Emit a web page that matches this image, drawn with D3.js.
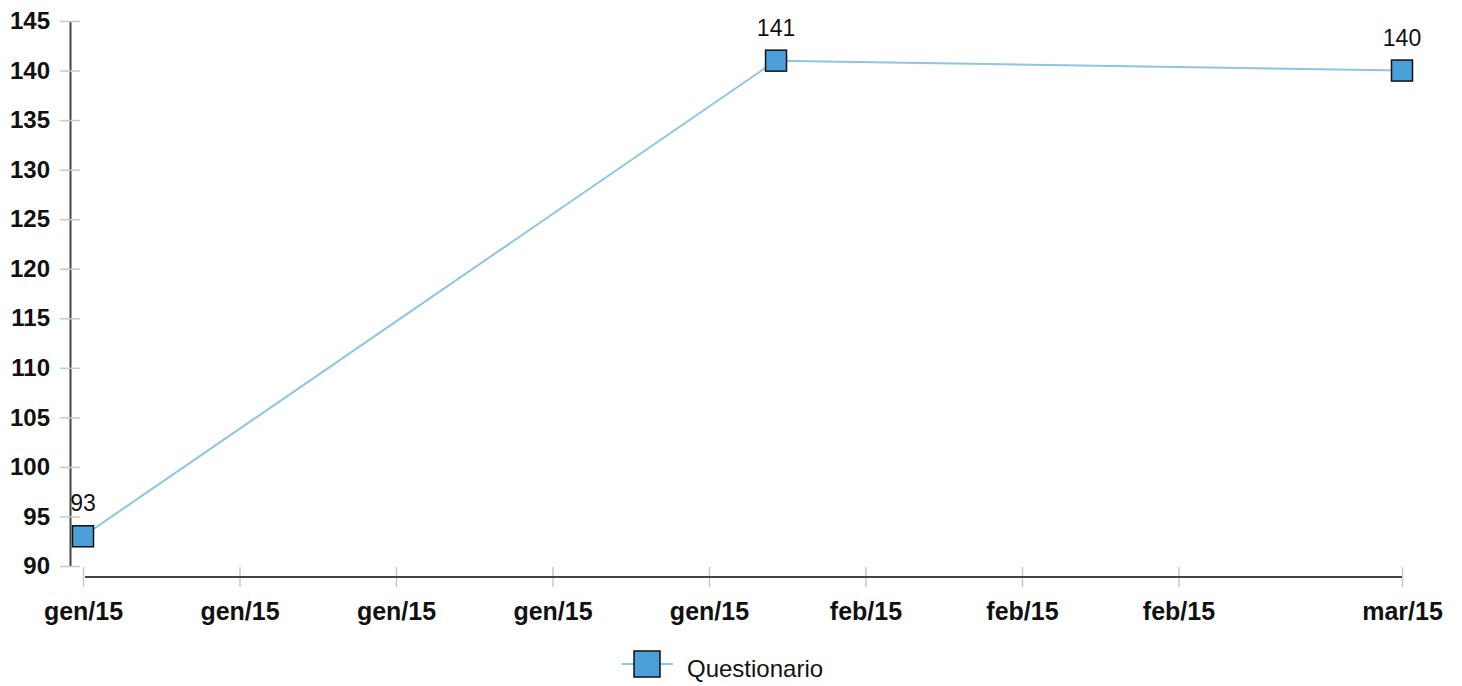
<!DOCTYPE html>
<html>
<head>
<meta charset="utf-8">
<script src="https://cdn.jsdelivr.net/npm/d3@7"></script>
<style>
  body { margin: 0; background: #fff; }
  svg { display: block; font-family: "Liberation Sans", Arial, sans-serif; }
</style>
</head>
<body>
<svg id="chart" width="1462" height="686"></svg>
<script>
// data
const dates = ['2015-01-01', '2015-02-01', '2015-03-01'];
const values = [93, 141, 140];
const seriesName = 'Questionario';
const tickDates = ['2015-01-01', '2015-01-08', '2015-01-15', '2015-01-22', '2015-01-29',
  '2015-02-05', '2015-02-12', '2015-02-19', '2015-03-01'];
const yTicks = [90, 95, 100, 105, 110, 115, 120, 125, 130, 135, 140, 145];

const parse = d3.utcParse('%Y-%m-%d');
const it = d3.timeFormatLocale({
  dateTime: '%A %e %B %Y, %X', date: '%d/%m/%Y', time: '%H:%M:%S',
  periods: ['AM', 'PM'],
  days: ['domenica', 'lunedì', 'martedì', 'mercoledì', 'giovedì', 'venerdì', 'sabato'],
  shortDays: ['dom', 'lun', 'mar', 'mer', 'gio', 'ven', 'sab'],
  months: ['gennaio', 'febbraio', 'marzo', 'aprile', 'maggio', 'giugno', 'luglio', 'agosto', 'settembre', 'ottobre', 'novembre', 'dicembre'],
  shortMonths: ['gen', 'feb', 'mar', 'apr', 'mag', 'giu', 'lug', 'ago', 'set', 'ott', 'nov', 'dic']
});
const fmt = it.utcFormat('%b/%y');

const data = dates.map((d, i) => ({ date: parse(d), value: values[i] }));

const svg = d3.select('#chart');

const x = d3.scaleUtc()
  .domain([parse(dates[0]), parse(dates[dates.length - 1])])
  .range([83, 1402]);

const y = d3.scaleLinear()
  .domain([90, 145])
  .range([566, 21]);

// y axis
const yAxis = svg.append('g')
  .attr('transform', 'translate(70,0)')
  .call(d3.axisLeft(y).tickValues(yTicks).tickSize(0).tickPadding(20));
yAxis.select('.domain').attr('stroke', '#444').attr('stroke-width', 2);
yAxis.selectAll('.tick line')
  .attr('x1', -10).attr('x2', 10)
  .attr('stroke', '#c8c8c8').attr('stroke-width', 1.5);
yAxis.selectAll('.tick text')
  .attr('font-size', 24).attr('font-weight', 'bold').attr('fill', '#111')
  .attr('font-family', '"Liberation Sans", Arial, sans-serif');

// x axis
const xAxis = svg.append('g')
  .attr('transform', 'translate(0,577)')
  .call(d3.axisBottom(x).tickValues(tickDates.map(parse)).tickFormat(fmt).tickSize(0).tickPadding(25));
xAxis.select('.domain').remove();
xAxis.append('line')
  .attr('x1', x(parse(dates[0])) + 2).attr('x2', x(parse(dates[dates.length - 1])))
  .attr('stroke', '#444').attr('stroke-width', 2);
xAxis.selectAll('.tick line')
  .attr('y1', -10).attr('y2', 10)
  .attr('stroke', '#c8c8c8').attr('stroke-width', 1.5);
xAxis.selectAll('.tick text')
  .attr('font-size', 25).attr('font-weight', 'bold').attr('fill', '#111')
  .attr('font-family', '"Liberation Sans", Arial, sans-serif');

// line
const line = d3.line().x(d => x(d.date)).y(d => y(d.value));
svg.append('path')
  .datum(data)
  .attr('d', line)
  .attr('fill', 'none')
  .attr('stroke', '#8ec5e2')
  .attr('stroke-width', 2);

const size = 21;
svg.append('g')
  .selectAll('rect')
  .data(data)
  .join('rect')
  .attr('x', d => x(d.date) - size / 2)
  .attr('y', d => y(d.value) - size / 2)
  .attr('width', size)
  .attr('height', size)
  .attr('fill', '#4ba0d9')
  .attr('stroke', '#111')
  .attr('stroke-width', 1.5);

svg.append('g')
  .selectAll('text')
  .data(data)
  .join('text')
  .attr('x', d => x(d.date))
  .attr('y', d => y(d.value) - 25)
  .attr('text-anchor', 'middle')
  .attr('font-size', 23)
  .attr('fill', '#111')
  .text(d => d.value);

// legend
const lg = svg.append('g').attr('transform', 'translate(622,664)');
lg.append('line').attr('x1', 0).attr('x2', 51).attr('stroke', '#8ec5e2').attr('stroke-width', 2);
lg.append('rect')
  .attr('x', 25 - 13).attr('y', -13).attr('width', 26).attr('height', 26)
  .attr('fill', '#4ba0d9').attr('stroke', '#111').attr('stroke-width', 1.5);
lg.append('text')
  .attr('x', 65).attr('y', 13)
  .attr('font-size', 24).attr('fill', '#111')
  .text(seriesName);
</script>
</body>
</html>
